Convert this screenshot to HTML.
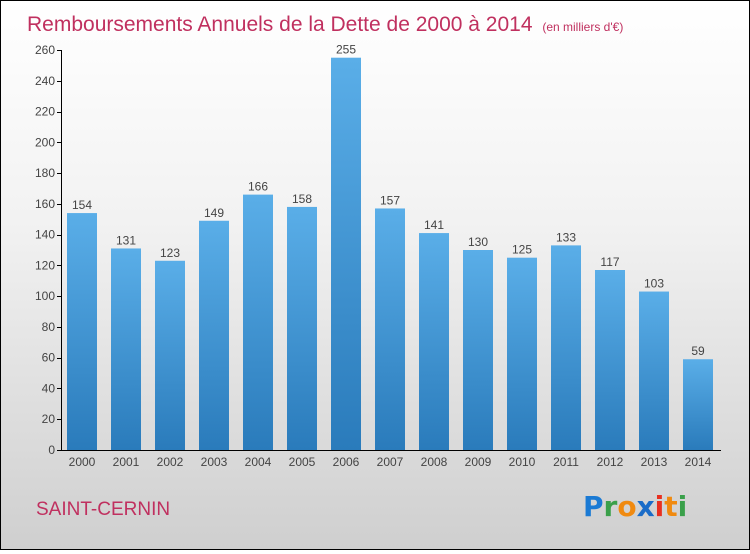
<!DOCTYPE html>
<html><head><meta charset="utf-8"><style>
html,body{margin:0;padding:0}
body{width:750px;height:550px;overflow:hidden;font-family:"Liberation Sans",sans-serif}
#wrap{position:relative;width:748px;height:548px;border:1px solid #000;background:linear-gradient(#ffffff 0%,#f2f2f2 40%,#cfcfcf 100%)}
</style></head><body>
<div id="wrap">
<svg id="chart" width="748" height="548">
<defs><linearGradient id="bg" x1="0" y1="0" x2="0" y2="1"><stop offset="0" stop-color="#5aaee8"/><stop offset="1" stop-color="#2a7bbb"/></linearGradient></defs>
<text x="26" y="30" font-size="21" fill="#c0305f">Remboursements Annuels de la Dette de 2000 à 2014 <tspan font-size="12" dx="4">(en milliers d'€)</tspan></text>
<text x="35" y="514" font-size="19" fill="#c0305f">SAINT-CERNIN</text>
<g font-size="28" font-weight="bold" font-family="'DejaVu Sans',sans-serif">
<text x="582" y="515"><tspan fill="#1a7ad4">P</tspan><tspan fill="#3aa04a">r</tspan><tspan fill="#f08a10">o</tspan><tspan fill="#1a6cc8">x</tspan><tspan fill="#e83020">i</tspan><tspan fill="#f08a10">t</tspan><tspan fill="#3aa04a">i</tspan></text>
</g>
<g id="axes"></g><g id="bars"></g>
</svg>
</div>
<script>
const categories=["2000","2001","2002","2003","2004","2005","2006","2007","2008","2009","2010","2011","2012","2013","2014"];
const values=[154,131,123,149,166,158,255,157,141,130,125,133,117,103,59];
const yTicks=[0,20,40,60,80,100,120,140,160,180,200,220,240,260];
const NS="http://www.w3.org/2000/svg";
const x0=60,y0=449,yMax=260,plotH=400,step=44,bw=30,firstC=81;
const y=v=>y0-v/yMax*plotH;
const xc=i=>firstC+i*step;
function mk(t,a,p){const e=document.createElementNS(NS,t);for(const k in a)e.setAttribute(k,a[k]);p.appendChild(e);return e;}
const ax=document.getElementById('axes'),bars=document.getElementById('bars');
let l=mk('line',{x1:x0+.5,y1:y(yMax),x2:x0+.5,y2:y0+.5,stroke:'#000'},ax);


l=mk('line',{x1:x0,y1:y0+.5,x2:720,y2:y0+.5,stroke:'#000'},ax);


yTicks.forEach(v=>{
 mk('line',{x1:x0-4,x2:x0,y1:Math.round(y(v))+.5,y2:Math.round(y(v))+.5,stroke:'#000'},ax);
 const t=mk('text',{x:x0-6,y:y(v)+4,'text-anchor':'end','font-size':12,fill:'#444'},ax);
 t.textContent=v;
 
 
});
categories.forEach((c,i)=>{
 const r=mk('rect',{x:xc(i)-bw/2,y:y(values[i]),width:bw,height:y0-y(values[i]),fill:'url(#bg)'},bars);
 
 
 const v=mk('text',{x:xc(i),y:y(values[i])-4,'text-anchor':'middle','font-size':12,fill:'#444'},bars);
 v.textContent=values[i];
 
 
 const t=mk('text',{x:xc(i),y:y0+16,'text-anchor':'middle','font-size':12,fill:'#444'},bars);
 t.textContent=c;
 
 
});
</script>
</body></html>
